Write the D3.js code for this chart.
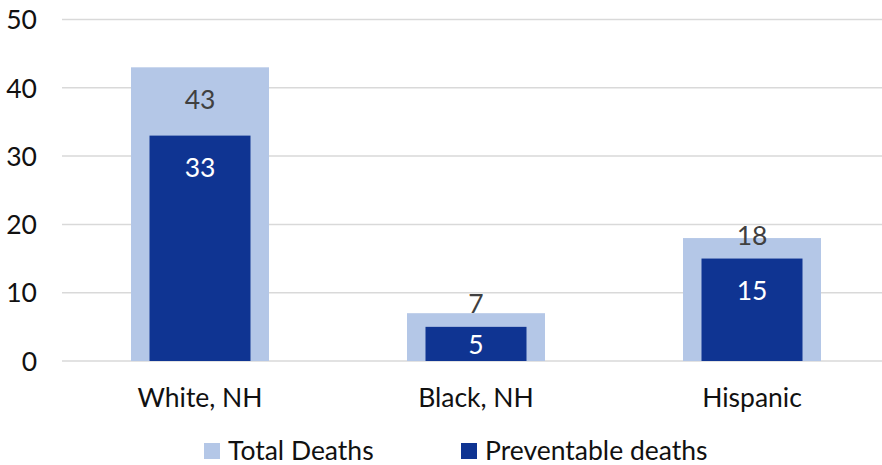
<!DOCTYPE html>
<html><head><meta charset="utf-8">
<script src="https://cdn.jsdelivr.net/npm/d3@7"></script>
<style>body{margin:0;background:#fff}svg{display:block}text{font-family:Lato,"Open Sans",sans-serif}</style>
</head><body><svg id="c" width="882" height="465"></svg>
<script>
const categories = ["White, NH", "Black, NH", "Hispanic"];
const totalDeaths = [43, 7, 18];
const preventableDeaths = [33, 5, 15];
const yTicks = [0, 10, 20, 30, 40, 50];
const seriesNames = ["Total Deaths", "Preventable deaths"];
const colors = ["#b4c7e7", "#0f3492"];
const FS = 26.5;

const svg = d3.select("#c");
const x = d3.scaleBand().domain(categories).range([62, 890]).paddingInner(0.5).paddingOuter(0.25);
const y = d3.scaleLinear().domain([0, 50]).range([361, 19.5]);

// gridlines
svg.append("g").selectAll("line").data(yTicks).join("line")
  .attr("x1", 62).attr("x2", 882)
  .attr("y1", d => y(d)).attr("y2", d => y(d))
  .attr("stroke", "#d9d9d9").attr("stroke-width", 1.5);

// y axis labels
const yAxis = d3.axisLeft(y).tickValues(yTicks).tickSize(0).tickPadding(0);
const ya = svg.append("g").attr("transform", "translate(37,0)").call(yAxis);
ya.select(".domain").remove();
ya.selectAll("text").attr("font-size", FS).attr("fill", "#111").attr("font-family", "Lato, sans-serif").attr("dy", "0.35em");

const innerW = x.bandwidth() * 101 / 138;

// total bars
svg.append("g").selectAll("rect").data(totalDeaths).join("rect")
  .attr("x", (d, i) => x(categories[i])).attr("width", x.bandwidth())
  .attr("y", d => y(d)).attr("height", d => y(0) - y(d)).attr("fill", colors[0]);
// preventable bars
svg.append("g").selectAll("rect").data(preventableDeaths).join("rect")
  .attr("x", (d, i) => x(categories[i]) + (x.bandwidth() - innerW) / 2).attr("width", innerW)
  .attr("y", d => y(d)).attr("height", d => y(0) - y(d)).attr("fill", colors[1]);

// total labels
svg.append("g").selectAll("text").data(totalDeaths).join("text")
  .attr("x", (d, i) => x(categories[i]) + x.bandwidth() / 2)
  .attr("y", (d, i) => Math.min((y(d) + y(preventableDeaths[i])) / 2 - 2, y(preventableDeaths[i]) - 23))
  .attr("dy", "0.35em").attr("text-anchor", "middle").attr("font-size", FS).attr("fill", "#404040")
  .text(d => d);
// preventable labels
svg.append("g").selectAll("text").data(preventableDeaths).join("text")
  .attr("x", (d, i) => x(categories[i]) + x.bandwidth() / 2)
  .attr("y", d => Math.min(y(d) + 32, (y(d) + y(0)) / 2 + 1))
  .attr("dy", "0.35em").attr("text-anchor", "middle").attr("font-size", FS).attr("fill", "#fff")
  .text(d => d);

// x axis labels
const xAxis = d3.axisBottom(x).tickSize(0).tickPadding(0);
const xa = svg.append("g").attr("transform", "translate(0,398)").call(xAxis);
xa.select(".domain").remove();
xa.selectAll("text").attr("font-size", FS).attr("fill", "#111").attr("font-family", "Lato, sans-serif").attr("dy", "0.35em");

// legend
const legendX = [204, 461];
const lg = svg.append("g").selectAll("g").data(seriesNames).join("g")
  .attr("transform", (d, i) => `translate(${legendX[i]},443)`);
lg.append("rect").attr("width", 16).attr("height", 16).attr("fill", (d, i) => colors[i]);
lg.append("text").attr("x", 24).attr("y", 8).attr("dy", "0.35em").attr("font-size", FS).attr("fill", "#111").text(d => d);
</script></body></html>
